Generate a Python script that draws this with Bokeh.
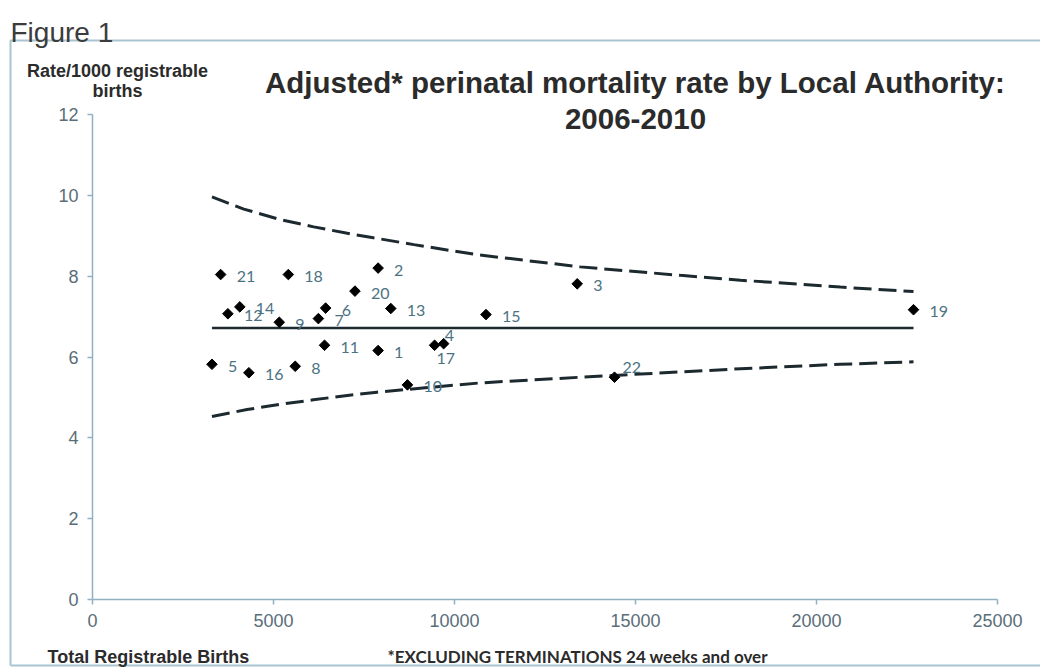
import numpy as np
from bokeh.plotting import figure
from bokeh.models import Range1d, FixedTicker, Label, ColumnDataSource
from bokeh.core.properties import value
from bokeh.embed import file_html
from bokeh.resources import INLINE

# ---------------- data ----------------
authority_ids = ["1", "2", "3", "4", "5", "6", "7", "8", "9", "10", "11",
                 "12", "13", "14", "15", "16", "17", "18", "19", "20", "21", "22"]
births = [7890, 7890, 13390, 9700, 3300, 6440, 6240, 5600, 5160, 8700, 6410,
          3740, 8240, 4070, 10870, 4320, 9450, 5410, 22680, 7250, 3540, 14420]
rates = [6.16, 8.20, 7.81, 6.33, 5.82, 7.21, 6.95, 5.77, 6.86, 5.31, 6.29,
         7.07, 7.20, 7.24, 7.05, 5.61, 6.29, 8.04, 7.17, 7.63, 8.04, 5.50]

mean_births = [3300, 22680]
mean_rates = [6.72, 6.72]

upper_births = [3300, 4180, 5190, 6110, 7040, 7760, 8880, 10630, 13480, 16240, 17900, 20660, 22680]
upper_rates = [9.96, 9.66, 9.40, 9.22, 9.06, 8.95, 8.78, 8.53, 8.23, 8.02, 7.90, 7.73, 7.62]

lower_births = [3300, 4270, 5190, 6100, 7040, 7860, 10720, 13480, 16240, 17900, 20660, 22680]
lower_rates = [4.53, 4.70, 4.83, 4.94, 5.05, 5.13, 5.36, 5.50, 5.63, 5.71, 5.82, 5.88]

x_ticks = [0, 5000, 10000, 15000, 20000, 25000]
y_ticks = [0, 2, 4, 6, 8, 10, 12]

title_line1 = "Adjusted* perinatal mortality rate by Local Authority:"
title_line2 = "2006-2010"

# ---------------- layout / style ----------------
W, H = 1040, 668
# canvas pixel positions of the axis extremes
FL, FR, FT, FB = 92, 997, 114, 599
X0, X1, Y0, Y1 = 0, 25000, 0, 12

AXIS_COL = "#8fb1c2"
TICK_TXT = "#5a6e78"
LABEL_TXT = "#4b7282"
DARK = "#2b2b2b"
LINE_COL = "#1c2a30"
BOX_COL = "#a9c4d1"

def dx(fx):
    return X0 + (fx - FL) / (FR - FL) * (X1 - X0)

def dy(fy):
    return Y1 - (fy - FT) / (FB - FT) * (Y1 - Y0)

p = figure(width=W, height=H, output_backend="svg", toolbar_location=None,
           x_range=Range1d(dx(0), dx(W)), y_range=Range1d(dy(H), dy(0)),
           min_border=0, min_border_left=0, min_border_right=0,
           min_border_top=0, min_border_bottom=0)
p.outline_line_color = None
p.xgrid.visible = False
p.ygrid.visible = False
p.background_fill_color = "white"
p.border_fill_color = "white"

for ax, ticks, bnds in ((p.xaxis[0], x_ticks, (X0, X1)), (p.yaxis[0], y_ticks, (Y0, Y1))):
    ax.fixed_location = 0
    ax.bounds = bnds
    ax.ticker = FixedTicker(ticks=ticks)
    ax.minor_tick_line_color = None
    ax.axis_line_color = AXIS_COL
    ax.axis_line_width = 1.5
    ax.major_tick_line_color = AXIS_COL
    ax.major_tick_line_width = 1.5
    ax.major_tick_out = 5
    ax.major_tick_in = 0
    ax.major_label_text_font = "Liberation Sans"
    ax.major_label_text_font_size = "18px"
    ax.major_label_text_color = TICK_TXT
    ax.major_label_standoff = 9

# frame box of the original figure (decoration)
p.line([dx(10), dx(10), dx(W + 20)], [dy(665), dy(40), dy(40)],
       line_color=BOX_COL, line_width=2)
p.line([dx(10), dx(W + 20)], [dy(665), dy(665)], line_color=BOX_COL, line_width=2)

# control limits and mean
p.line(upper_births, upper_rates, line_color=LINE_COL, line_width=3, line_dash="18 7")
p.line(lower_births, lower_rates, line_color=LINE_COL, line_width=3, line_dash="18 7")
p.line(mean_births, mean_rates, line_color=LINE_COL, line_width=2.5)

# points
src = ColumnDataSource(dict(x=births, y=rates, t=authority_ids))
p.scatter("x", "y", source=src, marker="square", angle=np.pi / 4, size=7.5,
          fill_color="black", line_color="black")

# point labels (offsets are style)
special = {"4": (1, -8), "17": (2, 13), "22": (8, -10)}
xo = [special.get(t, (16, 2))[0] for t in authority_ids]
yo = [special.get(t, (16, 2))[1] for t in authority_ids]
lsrc = ColumnDataSource(dict(x=births, y=rates, t=authority_ids, xo=xo, yo=yo))
p.text("x", "y", text="t", x_offset="xo", y_offset="yo", source=lsrc,
       text_font=value("Lato"), text_font_size="16px", text_color=LABEL_TXT,
       text_baseline="middle", text_align="left")

def lab(txt, fx, fy, size, font="Liberation Sans", style="bold", color=DARK, align="left"):
    p.add_layout(Label(x=dx(fx), y=dy(fy), text=txt, text_font=font,
                       text_font_size=size, text_font_style=style, text_color=color,
                       text_align=align, text_baseline="alphabetic"))

lab("Figure 1", 10, 32, "28px", style="normal", color="#3c3c3c")
lab(title_line1, 635, 82, "29.5px", align="center")
lab(title_line2, 635, 118, "29.5px", align="center")
lab("Rate/1000 registrable", 117, 70, "18px", align="center")
lab("births", 117, 90, "18px", align="center")
lab("Total Registrable Births", 47, 656, "18px")
lab("*EXCLUDING TERMINATIONS 24 weeks and over", 387, 656, "17px", font="Lato")

open("out.html", "w").write(file_html(p, INLINE))
